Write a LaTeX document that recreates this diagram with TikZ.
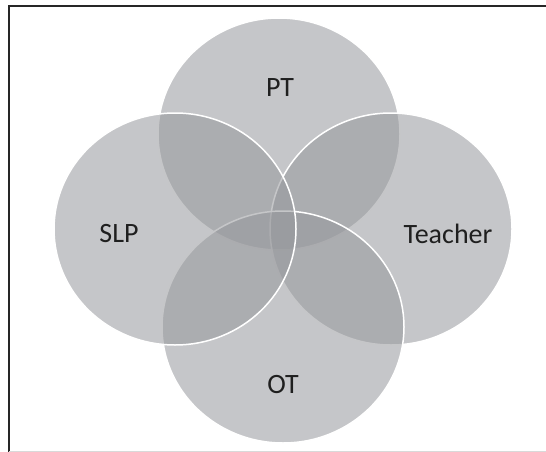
\documentclass[tikz,border=0pt]{standalone}
\usepackage{fontspec}
\setmainfont{Carlito}
\usetikzlibrary{shapes.geometric}
\definecolor{venngray}{RGB}{150,152,156}
\definecolor{frameline}{RGB}{38,38,38}

\begin{document}
\begin{tikzpicture}[x=1pt,y=-1pt]
	\tikzstyle{every node}=[inner sep=0pt]
	\tikzstyle{venn}=[ellipse, fill=venngray, fill opacity=0.55, draw=white,
		line width=1.5pt, minimum width=242pt, minimum height=232pt]
	\tikzstyle{lbl}=[font=\fontsize{28}{32}\selectfont, text=black!88]
	\useasboundingbox (0,0) rectangle (546,452);
	% frame
	\draw[frameline, line width=2pt] (9,452) -- (9,6) -- (546,6);
	\draw[black!15, line width=1pt] (9,451) -- (546,451);
	% circles
	\node[venn] (pt) at (279,134) {};
	\node[venn] (teacher) at (391,229) {};
	\node[venn] (ot) at (283,327) {};
	\node[venn] (slp) at (175,229) {};
	% labels
	\node[lbl] (ptlabel) at (280,88) {PT};
	\node[lbl] (slplabel) at (119,234) {SLP};
	\node[lbl] (teacherlabel) at (448,234) {Teacher};
	\node[lbl] (otlabel) at (283,385) {OT};
\end{tikzpicture}
\end{document}
